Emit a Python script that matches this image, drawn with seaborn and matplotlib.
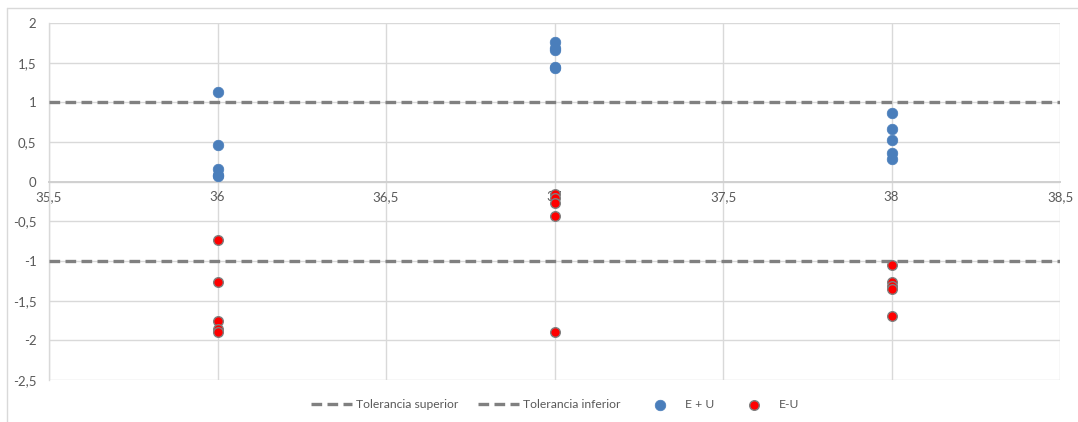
import numpy as np
import pandas as pd
import matplotlib
matplotlib.use("Agg")
import matplotlib.pyplot as plt
from matplotlib.ticker import FuncFormatter
from matplotlib.lines import Line2D
import seaborn as sns

# Measurement nominal points
temps = [36, 37, 38]

# Error plus uncertainty (E + U) at each nominal point
e_plus_u_36 = [1.13, 0.46, 0.16, 0.09, 0.07]
e_plus_u_37 = [1.76, 1.69, 1.66, 1.45, 1.43]
e_plus_u_38 = [0.86, 0.67, 0.53, 0.36, 0.29]

# Error minus uncertainty (E-U) at each nominal point
e_minus_u_36 = [-0.73, -1.26, -1.76, -1.86, -1.89]
e_minus_u_37 = [-0.16, -0.21, -0.27, -0.43, -1.89]
e_minus_u_38 = [-1.05, -1.26, -1.32, -1.35, -1.69]

# Tolerance limits
tol_sup = 1.0
tol_inf = -1.0

x_range = [35.5, 38.5]
x_ticks = [35.5, 36, 36.5, 37, 37.5, 38, 38.5]
y_ticks = [-2.5, -2, -1.5, -1, -0.5, 0, 0.5, 1, 1.5, 2]

plus_df = pd.DataFrame({
    "x": np.repeat(temps, 5),
    "y": e_plus_u_36 + e_plus_u_37 + e_plus_u_38,
})
minus_df = pd.DataFrame({
    "x": np.repeat(temps, 5),
    "y": e_minus_u_36 + e_minus_u_37 + e_minus_u_38,
})
sup_df = pd.DataFrame({"x": x_range, "y": [tol_sup, tol_sup]})
inf_df = pd.DataFrame({"x": x_range, "y": [tol_inf, tol_inf]})

sns.set_style("white")
plt.rcParams["font.family"] = ["Lato", "DejaVu Sans"]

text_color = "#595959"
grid_color = "#d9d9d9"

fig = plt.figure(figsize=(10.78, 4.22), dpi=100)
ax = fig.add_axes([49 / 1078, 1 - 380 / 422, (1060 - 49) / 1078, (380 - 23) / 422])

sns.lineplot(data=sup_df, x="x", y="y", ax=ax, color="#808080", lw=2.4,
             dashes=False, label="Tolerancia superior", zorder=3)
sns.lineplot(data=inf_df, x="x", y="y", ax=ax, color="#808080", lw=2.4,
             dashes=False, label="Tolerancia inferior", zorder=3)
for ln in ax.get_lines():
    ln.set_linestyle((0, (3.2, 1.6)))

sns.scatterplot(data=plus_df, x="x", y="y", ax=ax, color="#4a7ebb", s=58,
                edgecolor="#4a7ebb", linewidth=0.5, label="E + U", zorder=4)
sns.scatterplot(data=minus_df, x="x", y="y", ax=ax, color="#ff0000", s=48,
                edgecolor="#7f7f7f", linewidth=1.0, label="E-U", zorder=4)

ax.set_xlim(x_range)
ax.set_ylim(-2.5, 2)
ax.set_xticks(x_ticks)
ax.set_yticks(y_ticks)
fmt = FuncFormatter(lambda v, p: ("%g" % v).replace(".", ","))
ax.xaxis.set_major_formatter(fmt)
ax.yaxis.set_major_formatter(fmt)
ax.set_xlabel("")
ax.set_ylabel("")

ax.grid(True, color=grid_color, lw=1.0, zorder=0)
ax.set_axisbelow(True)

# x axis crosses at y = 0
ax.spines["bottom"].set_position(("data", 0))
ax.spines["bottom"].set_color("#d0d0d0")
ax.spines["bottom"].set_linewidth(1.4)
ax.spines["left"].set_color(grid_color)
ax.spines["left"].set_linewidth(1.0)
ax.spines["top"].set_visible(False)
ax.spines["right"].set_visible(False)

ax.tick_params(axis="both", length=0, labelsize=9.5, labelcolor=text_color)
ax.tick_params(axis="x", pad=7)
ax.tick_params(axis="y", pad=9)

handles, labels = ax.get_legend_handles_labels()
ax.get_legend().remove()
fig.legend(handles, labels, loc="center", bbox_to_anchor=(555 / 1078, 1 - 405 / 422),
           ncol=4, frameon=False, fontsize=8.7, labelcolor=text_color,
           handlelength=3.4, columnspacing=1.6, handletextpad=0.35)

# chart area border
fig.add_artist(Line2D([7 / 1078, 1], [1 - 8 / 422, 1 - 8 / 422],
                      transform=fig.transFigure, color=grid_color, lw=1.0))
fig.add_artist(Line2D([7 / 1078, 7 / 1078], [0, 1 - 8 / 422],
                      transform=fig.transFigure, color=grid_color, lw=1.0))

fig.savefig("out.png", dpi=100, facecolor="white")
